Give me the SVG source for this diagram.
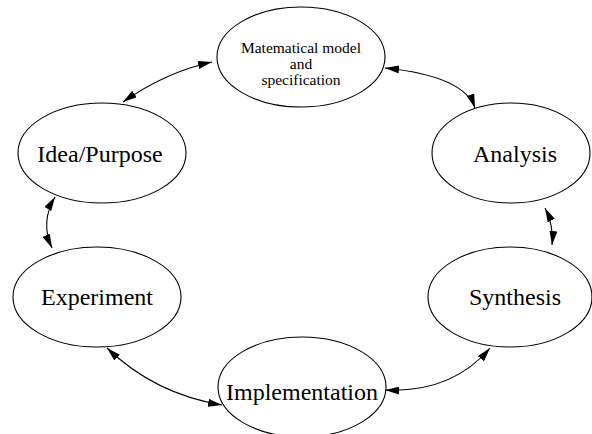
<svg xmlns="http://www.w3.org/2000/svg" width="592" height="434" viewBox="0 0 592 434">
<style>
.node ellipse{fill:#fff;stroke:#000;stroke-width:1.1}
.lbl{font-family:"Liberation Serif","Times New Roman",serif;font-size:24px;fill:#000;text-anchor:middle}
.sm{font-size:15.5px}
.edge{fill:none;stroke:#000;stroke-width:1.1;marker-start:url(#ah);marker-end:url(#ah)}
</style>
<defs>
<marker id="ah" viewBox="0 0 14 8" refX="14" refY="4" markerWidth="14" markerHeight="8" markerUnits="userSpaceOnUse" orient="auto-start-reverse">
<path d="M0,0 L14,4 L0,8 Z" fill="#000"/>
</marker>
</defs>
<rect width="592" height="434" fill="#fff"/>
<g id="edges">
<path class="edge" d="M212,62 Q166,72 123,102"/>
<path class="edge" d="M385,68 Q464,76 475,108"/>
<path class="edge" d="M545,208 Q554,226 552,245"/>
<path class="edge" d="M490,348 Q452,393 385,390"/>
<path class="edge" d="M107,348 Q155,394 222,405"/>
<path class="edge" d="M55,197 Q40,222 52,248"/>
</g>
<g id="model" class="node">
<ellipse cx="301" cy="57" rx="84" ry="50"/>
<text class="lbl sm" x="301" y="53">Matematical model</text>
<text class="lbl sm" x="301" y="69">and</text>
<text class="lbl sm" x="301" y="85">specification</text>
</g>
<g id="idea" class="node">
<ellipse cx="102" cy="153" rx="84" ry="50"/>
<text class="lbl" x="100" y="162">Idea/Purpose</text>
</g>
<g id="analysis" class="node">
<ellipse cx="511" cy="153" rx="79" ry="50"/>
<text class="lbl" x="515" y="162">Analysis</text>
</g>
<g id="experiment" class="node">
<ellipse cx="97" cy="297" rx="84" ry="50"/>
<text class="lbl" x="97" y="305">Experiment</text>
</g>
<g id="synthesis" class="node">
<ellipse cx="510" cy="297" rx="82" ry="50"/>
<text class="lbl" x="515" y="305">Synthesis</text>
</g>
<g id="implementation" class="node">
<ellipse cx="302" cy="387" rx="84" ry="50"/>
<text class="lbl" x="302" y="400">Implementation</text>
</g>
</svg>
